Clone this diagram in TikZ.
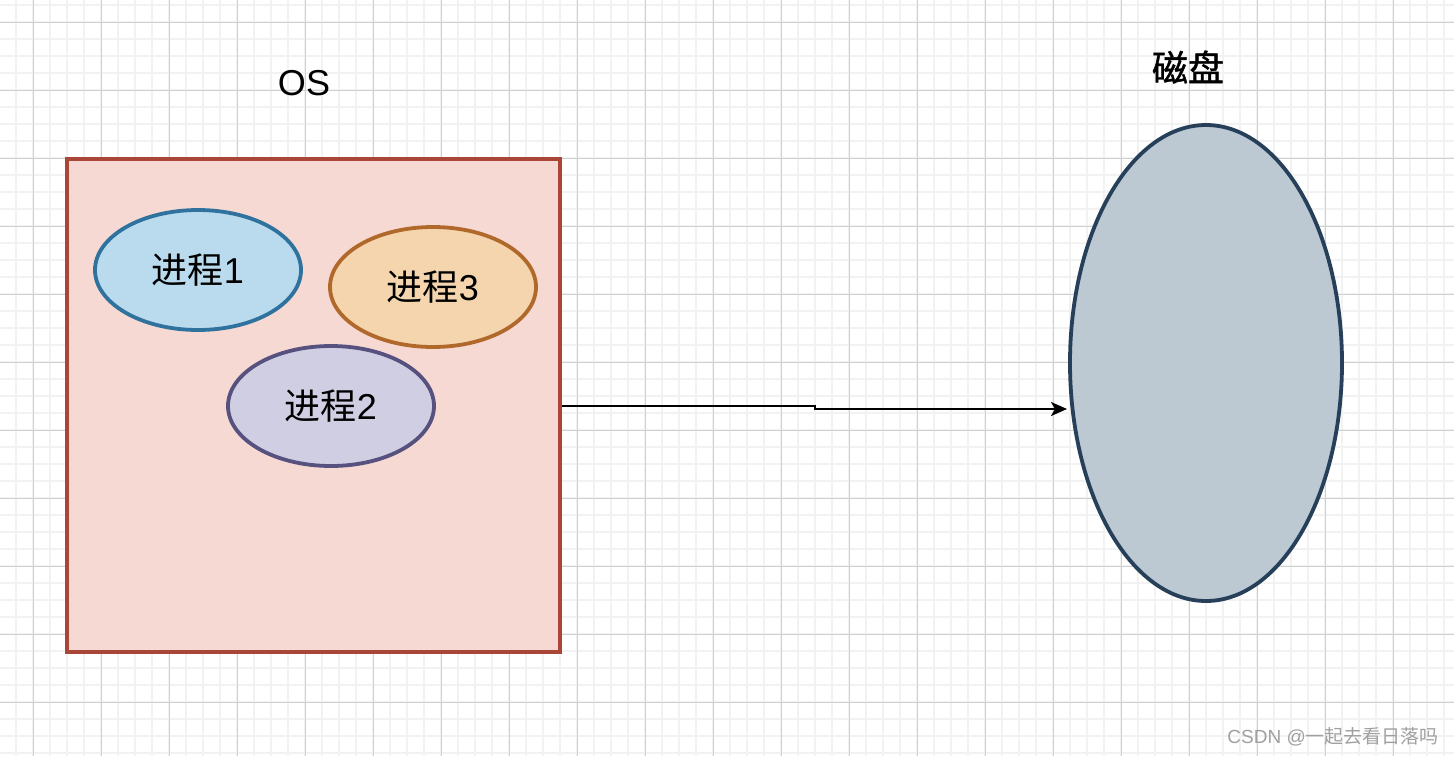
\documentclass[tikz,border=0pt]{standalone}
\usepackage{fontspec}
\setmainfont{Liberation Sans}
\newfontfamily\cjk{Noto Sans CJK SC}
\newfontfamily\cjkb{Noto Sans CJK SC}[FakeBold=1.2]
\usetikzlibrary{shapes.geometric,arrows.meta}
\definecolor{gminor}{HTML}{F2F2F2}
\definecolor{gmajor}{HTML}{D0D0D0}
\definecolor{osfill}{HTML}{F7D9D4}
\definecolor{osdraw}{HTML}{A94637}
\definecolor{pafill}{HTML}{BADBEE}
\definecolor{padraw}{HTML}{2F729E}
\definecolor{pbfill}{HTML}{D0CEE2}
\definecolor{pbdraw}{HTML}{56517E}
\definecolor{pcfill}{HTML}{F5D5AD}
\definecolor{pcdraw}{HTML}{B0692A}
\definecolor{dkfill}{HTML}{BCC8D2}
\definecolor{dkdraw}{HTML}{26405A}
\definecolor{wmark}{HTML}{A0A0A0}
\tikzset{
  proc/.style={ellipse, draw, line width=3.8pt, inner sep=0pt, minimum width=206pt, minimum height=120pt, font=\fontsize{36}{42}\selectfont},
  label/.style={font=\fontsize{36}{42}\selectfont, inner sep=0pt},
  conn/.style={line width=2pt, -{Stealth[length=16pt,width=14pt,inset=4pt]}}
}
\begin{document}
\begin{tikzpicture}[x=1pt,y=-1pt]
\useasboundingbox (0,0) rectangle (1454,756);
\fill[white] (0,0) rectangle (1454,756);
% grid
\foreach \x in {16,33,...,1454} \draw[gminor,line width=2pt] (\x,0) -- (\x,756);
\foreach \y in {5,22,...,756} \draw[gminor,line width=2pt] (0,\y) -- (1454,\y);
\foreach \x in {33,101,...,1454} \draw[gmajor,line width=1pt] (\x,0) -- (\x,756);
\foreach \y in {22,90,...,756} \draw[gmajor,line width=1pt] (0,\y) -- (1454,\y);
% OS box
\node[draw=osdraw, fill=osfill, line width=3.8pt, minimum width=493pt, minimum height=493pt, inner sep=0pt] (os) at (313.5,405.5) {};
\node[label] (oslabel) at (304,83) {OS};
\node[proc, draw=padraw, fill=pafill] (p1) at (198,270) {{\cjk 进程}1};
\node[proc, draw=pcdraw, fill=pcfill] (p3) at (433,287) {{\cjk 进程}3};
\node[proc, draw=pbdraw, fill=pbfill] (p2) at (331,406) {{\cjk 进程}2};
% disk
\node[ellipse, draw=dkdraw, fill=dkfill, line width=3.8pt, inner sep=0pt, minimum width=272pt, minimum height=476pt] (disk) at (1206,363) {};
\node[label] (disklabel) at (1188,67) {\cjkb 磁盘};
% connector
\coordinate (bend) at (815,409);
\coordinate (tip) at (1067,409);
\draw[conn] (os.east) -| (bend) -- (tip);
% watermark
\node[font=\fontsize{19}{22}\selectfont, text=wmark, anchor=east, inner sep=0pt] (wm) at (1439,737) {CSDN @{\cjk 一起去看日落吗}};
\end{tikzpicture}
\end{document}
